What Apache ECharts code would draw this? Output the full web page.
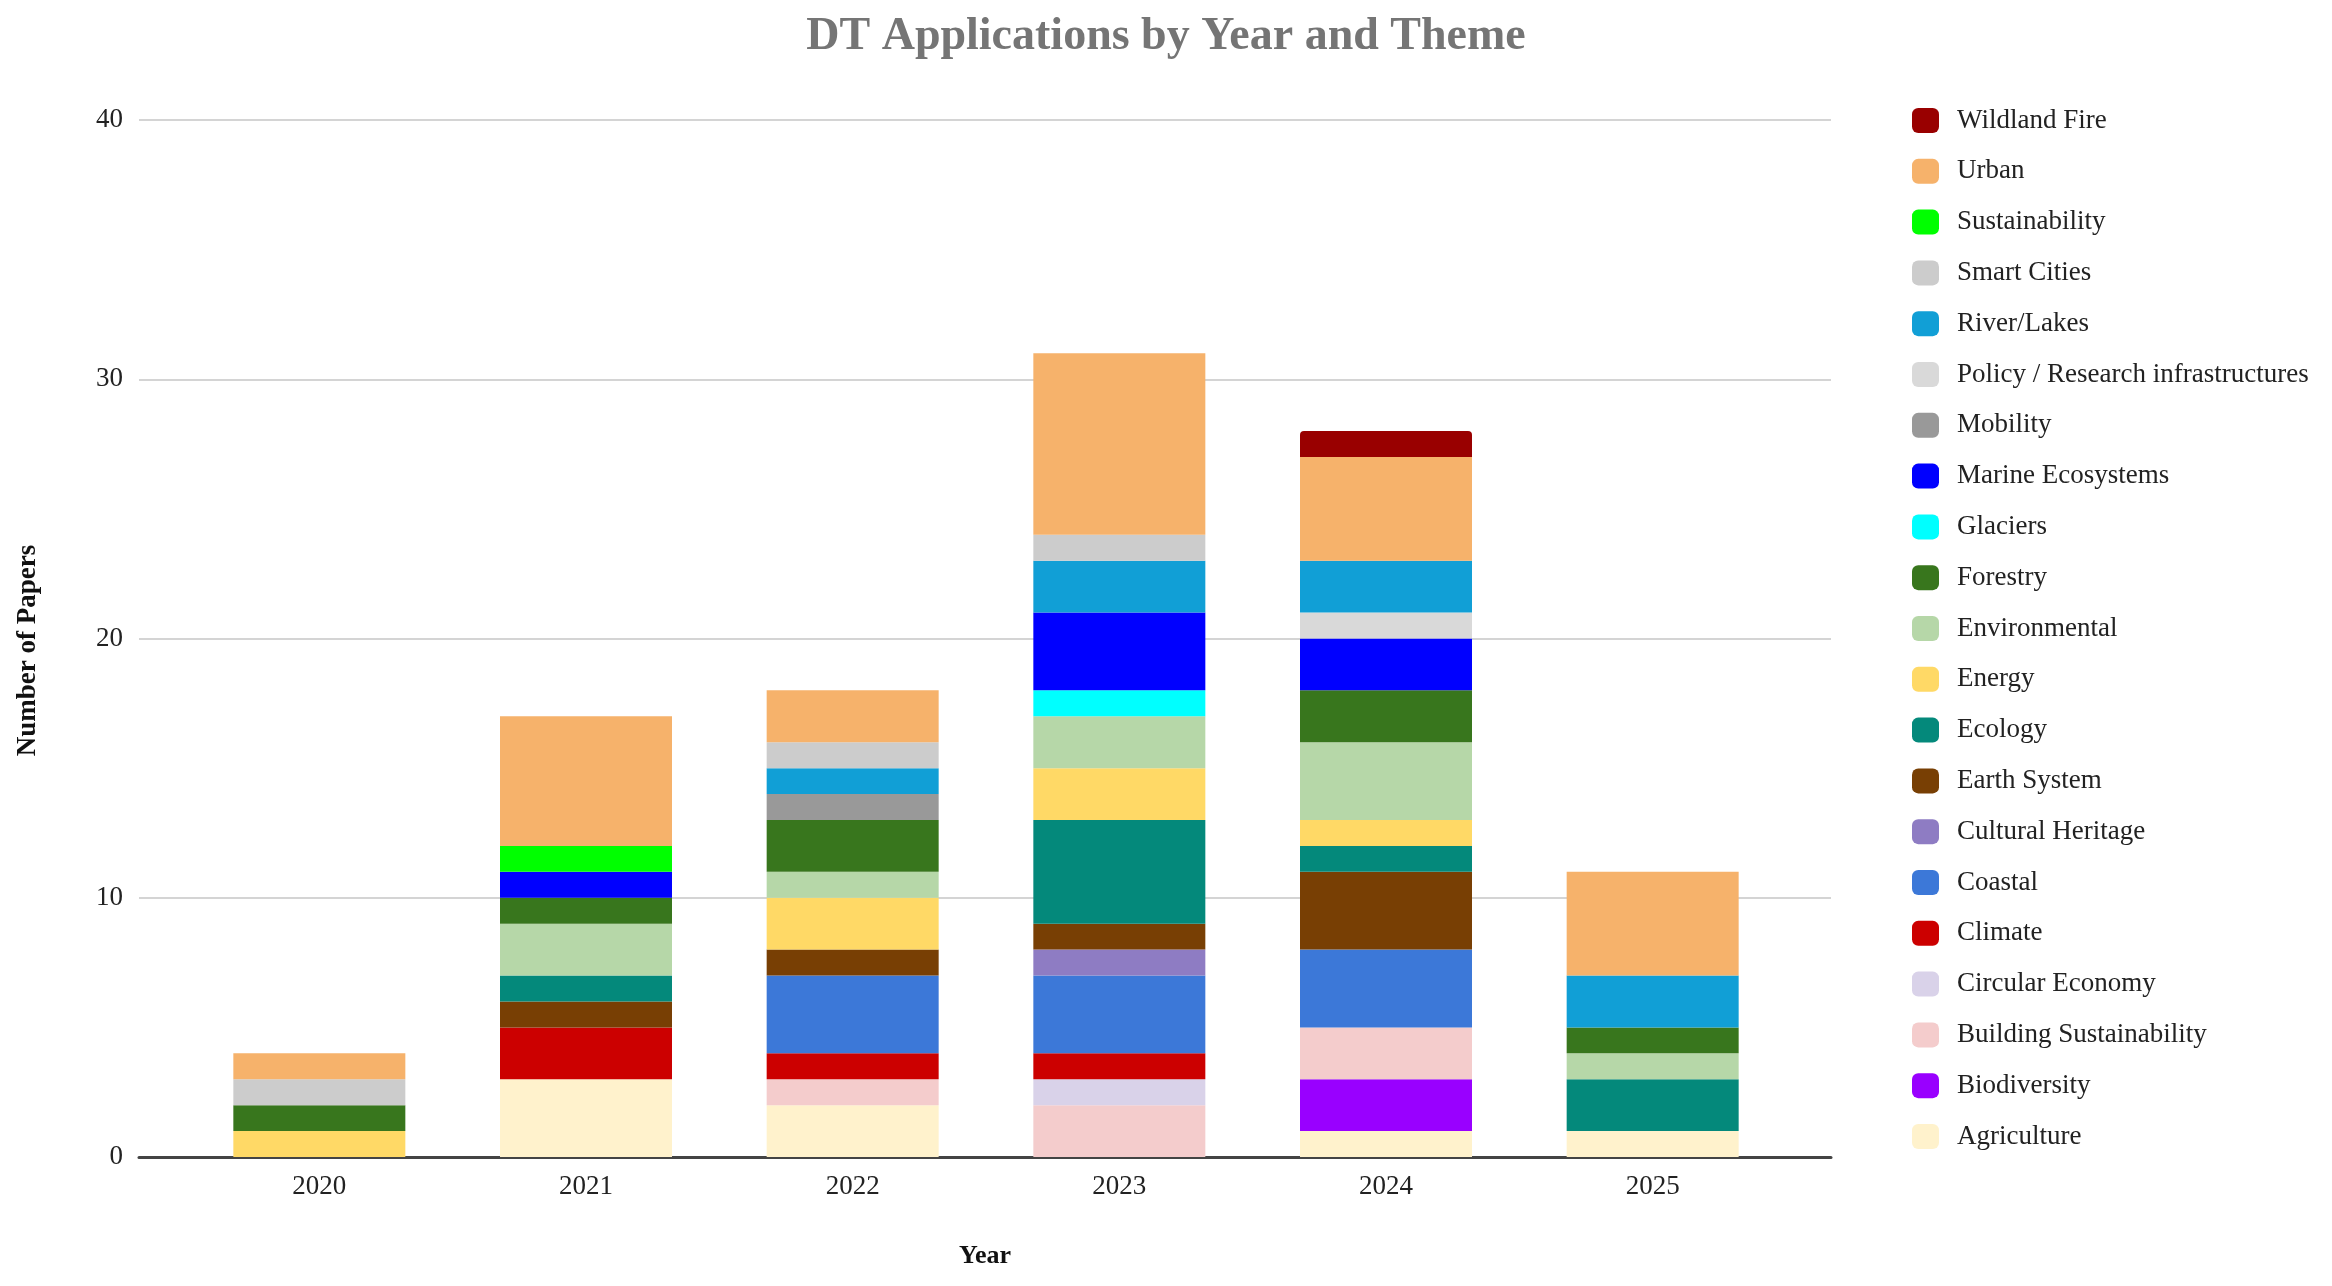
<!DOCTYPE html>
<html>
<head>
<meta charset="utf-8">
<title>DT Applications by Year and Theme</title>
<script src="https://cdn.jsdelivr.net/npm/echarts@6/dist/echarts.min.js"></script>
<style>
  html, body { margin: 0; padding: 0; background: #fff; }
  #main { width: 2332px; height: 1286px; }
</style>
</head>
<body>
<div id="main"></div>
<script>
// years on the x axis
const years = ['2020', '2021', '2022', '2023', '2024', '2025']
const yTicks = [0, 10, 20, 30, 40]

// papers per theme, one value per year (stack order: bottom -> top)
const agriculture = [0, 3, 2, 0, 1, 1]
const biodiversity = [0, 0, 0, 0, 2, 0]
const buildingSustainability = [0, 0, 1, 2, 2, 0]
const circularEconomy = [0, 0, 0, 1, 0, 0]
const climate = [0, 2, 1, 1, 0, 0]
const coastal = [0, 0, 3, 3, 3, 0]
const culturalHeritage = [0, 0, 0, 1, 0, 0]
const earthSystem = [0, 1, 1, 1, 3, 0]
const ecology = [0, 1, 0, 4, 1, 2]
const energy = [1, 0, 2, 2, 1, 0]
const environmental = [0, 2, 1, 2, 3, 1]
const forestry = [1, 1, 2, 0, 2, 1]
const glaciers = [0, 0, 0, 1, 0, 0]
const marineEcosystems = [0, 1, 0, 3, 2, 0]
const mobility = [0, 0, 1, 0, 0, 0]
const policyResearch = [0, 0, 0, 0, 1, 0]
const riverLakes = [0, 0, 1, 2, 2, 2]
const smartCities = [1, 0, 1, 1, 0, 0]
const sustainability = [0, 1, 0, 0, 0, 0]
const urban = [1, 5, 2, 7, 4, 4]
const wildlandFire = [0, 0, 0, 0, 1, 0]

const themes = [
  ['Agriculture', agriculture, '#fff2cc'],
  ['Biodiversity', biodiversity, '#9900ff'],
  ['Building Sustainability', buildingSustainability, '#f4cccc'],
  ['Circular Economy', circularEconomy, '#d9d2e9'],
  ['Climate', climate, '#cc0000'],
  ['Coastal', coastal, '#3c78d8'],
  ['Cultural Heritage', culturalHeritage, '#8e7cc3'],
  ['Earth System', earthSystem, '#783f04'],
  ['Ecology', ecology, '#04897b'],
  ['Energy', energy, '#ffd966'],
  ['Environmental', environmental, '#b6d7a8'],
  ['Forestry', forestry, '#38761d'],
  ['Glaciers', glaciers, '#00ffff'],
  ['Marine Ecosystems', marineEcosystems, '#0000ff'],
  ['Mobility', mobility, '#999999'],
  ['Policy / Research infrastructures', policyResearch, '#d9d9d9'],
  ['River/Lakes', riverLakes, '#119fd6'],
  ['Smart Cities', smartCities, '#cccccc'],
  ['Sustainability', sustainability, '#00ff00'],
  ['Urban', urban, '#f6b26b'],
  ['Wildland Fire', wildlandFire, '#990000']
]

const font = '"Liberation Serif", "Times New Roman", serif'

let myChart = echarts.init(document.getElementById('main'))

let series = themes.map(function (t) {
  return {
    name: t[0],
    type: 'bar',
    stack: 'total',
    xAxisIndex: 1,
    yAxisIndex: 1,
    barWidth: 172,
    data: t[1],
    itemStyle: {
      color: t[2],
      borderRadius: t[0] === 'Wildland Fire' ? [4, 4, 0, 0] : 0
    }
  }
})

let option = {
  animation: false,
  backgroundColor: '#fff',
  color: themes.map(t => t[2]),
  title: {
    text: 'DT Applications by Year and Theme',
    left: 'center',
    top: 9,
    textStyle: { fontFamily: font, fontSize: 46, fontWeight: 'bold', color: '#757575' }
  },
  legend: {
    orient: 'vertical',
    left: 1907,
    top: 102,
    icon: 'roundRect',
    itemWidth: 27,
    itemHeight: 25,
    itemGap: 23.8,
    selectedMode: false,
    data: themes.map(t => t[0]).reverse(),
    textStyle: { fontFamily: font, fontSize: 27, lineHeight: 27, color: '#222', padding: [0, 0, 0, 13] }
  },
  grid: [
    // full-width grid: gridlines, y labels, baseline
    { left: 139, right: 501, top: 120, bottom: 129 },
    // bar grid, inset so the outer bars have extra padding like the original
    { left: 186, right: 546, top: 120, bottom: 129 }
  ],
  xAxis: [
    {
      gridIndex: 0,
      type: 'value',
      min: 0,
      max: 1,
      axisLine: { show: true, lineStyle: { color: '#444', width: 3 } },
      axisTick: { show: false },
      axisLabel: { show: false },
      splitLine: { show: false },
      name: 'Year',
      nameLocation: 'middle',
      nameGap: 86,
      nameTextStyle: { fontFamily: font, fontSize: 26, fontWeight: 'bold', color: '#111' }
    },
    {
      gridIndex: 1,
      type: 'category',
      data: years,
      axisLine: { show: false },
      axisTick: { show: false },
      axisLabel: { fontFamily: font, fontSize: 27, color: '#222', margin: 16 }
    }
  ],
  yAxis: [
    {
      gridIndex: 0,
      type: 'value',
      min: yTicks[0],
      max: yTicks[yTicks.length - 1],
      interval: 10,
      axisLine: { show: false },
      axisTick: { show: false },
      axisLabel: { fontFamily: font, fontSize: 27, color: '#222', margin: 16 },
      splitLine: { lineStyle: { color: '#d4d4d4', width: 2 } },
      name: 'Number of Papers',
      nameLocation: 'middle',
      nameGap: 97,
      nameTextStyle: { fontFamily: font, fontSize: 27, fontWeight: 'bold', color: '#111', padding: [0, 24, 0, 0] }
    },
    {
      gridIndex: 1,
      type: 'value',
      min: yTicks[0],
      max: yTicks[yTicks.length - 1],
      show: false
    }
  ],
  series: series
}

myChart.setOption(option)
</script>
</body>
</html>
